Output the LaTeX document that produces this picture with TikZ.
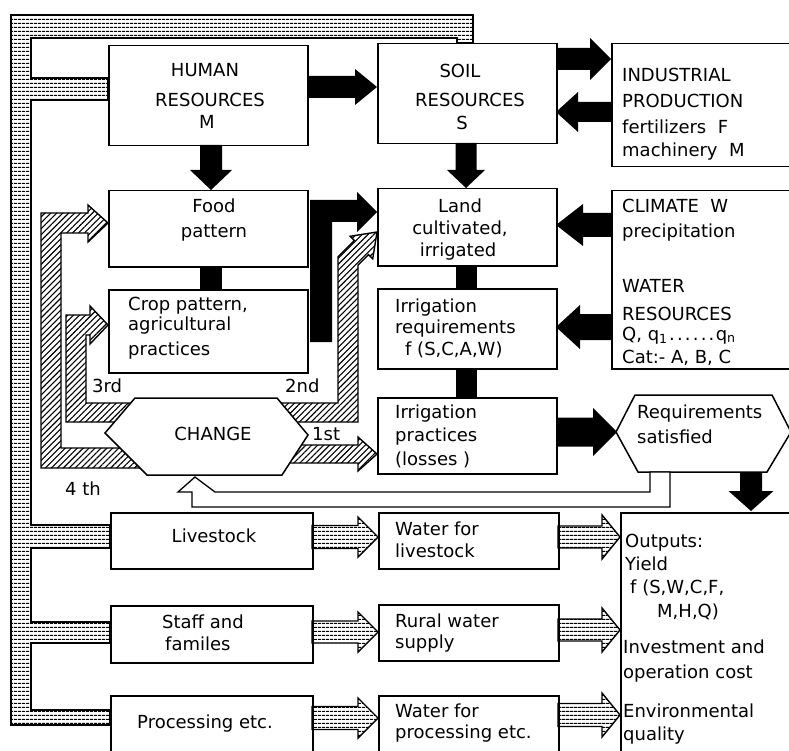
\documentclass[tikz,border=0pt]{standalone}
\usepackage{fontspec}
\setmainfont{DejaVu Sans}
\usetikzlibrary{patterns.meta}
\newcommand\hArr[7]{\path[#1] (#2,#5-#6) -- (#3,#5-#6) -- (#3,#5-#7) -- (#4,#5) -- (#3,#5+#7) -- (#3,#5+#6) -- (#2,#5+#6) -- cycle;}
\newcommand\vArr[7]{\path[#1] (#5-#6,#2) -- (#5-#6,#3) -- (#5-#7,#3) -- (#5,#4) -- (#5+#7,#3) -- (#5+#6,#3) -- (#5+#6,#2) -- cycle;}
\tikzset{
 box/.style={draw, line width=1.5pt, fill=white, inner sep=0pt, anchor=north west},
 t/.style={inner sep=0pt, font=\fontsize{18}{22}\selectfont},
 tl/.style={t, anchor=base west},
 tc/.style={t, anchor=base},
 blk/.style={fill=black},
 hatch/.style={draw, line width=1.4pt, line join=miter, pattern={Lines[angle=45,distance=4.2pt,line width=1.1pt]}},
 strp/.style={draw, line width=1.4pt, pattern={Lines[angle=0,distance=4pt,line width=1.1pt]}},
 hollow/.style={draw, line width=1.3pt, fill=white},
 hex/.style={draw, line width=1.5pt, fill=white},
}
\begin{document}
\begin{tikzpicture}[x=1pt,y=-1pt]
\clip (0,0) rectangle (789,751);
\fill[white] (0,0) rectangle (789,751);
% striped bus
\path[strp] (11,15) -- (473,15) -- (473,43) -- (457,43) -- (457,38) -- (31,38) -- (31,78) -- (108,78) -- (108,100) -- (31,100) -- (31,525) -- (110,525) -- (110,548) -- (31,548) -- (31,622) -- (110,622) -- (110,643) -- (31,643) -- (31,710) -- (110,710) -- (110,725) -- (11,725) -- cycle;
% boxes
\node[box, minimum width=199pt, minimum height=100pt] (hr) at (108,45) {};
\node[box, minimum width=179pt, minimum height=100pt] (soil) at (377,43) {};
\node[box, minimum width=200pt, minimum height=123pt] (ind) at (611,43) {};
\node[box, minimum width=199pt, minimum height=76pt] (food) at (108,190) {};
\node[box, minimum width=179pt, minimum height=77pt] (land) at (377,188) {};
\node[box, minimum width=200pt, minimum height=178pt] (clim) at (611,190) {};
\node[box, minimum width=199pt, minimum height=83pt] (crop) at (108,289) {};
\node[box, minimum width=179pt, minimum height=80pt] (ireq) at (377,288) {};
\node[box, minimum width=179pt, minimum height=76pt] (iprac) at (377,397) {};
\node[box, minimum width=202pt, minimum height=56pt] (live) at (110,512) {};
\node[box, minimum width=180pt, minimum height=56pt] (wlive) at (378,512) {};
\node[box, minimum width=202pt, minimum height=57pt] (staff) at (110,605) {};
\node[box, minimum width=180pt, minimum height=56pt] (rural) at (378,604) {};
\node[box, minimum width=202pt, minimum height=80pt] (proc) at (110,695) {};
\node[box, minimum width=180pt, minimum height=80pt] (wproc) at (378,695) {};
\node[box, minimum width=190pt, minimum height=260pt] (out) at (620,512) {};
% black arrows
\hArr{blk}{307}{355}{377}{87}{11}{18}
\vArr{blk}{145}{170}{190}{211}{11}{21}
\hArr{blk}{556}{590}{611}{59}{11}{21}
\hArr{blk}{611}{578}{556}{112}{10}{20}
\vArr{blk}{143}{170}{188}{466}{10.5}{19}
\hArr{blk}{611}{583}{556}{225}{12}{21}
\hArr{blk}{611}{580}{556}{327}{13}{22}
\hArr{blk}{556}{593}{617}{432}{14.5}{24}
\vArr{blk}{472}{491}{511}{751}{11}{22.5}
\fill (200,266) rectangle (222,289);
\fill (456,265) rectangle (477,288);
\fill (456,368) rectangle (477,397);
\fill (310,342) -- (310,200) -- (357,200) -- (357,192) -- (377,212) -- (357,232) -- (357,222) -- (332,222) -- (332,342) -- cycle;
% striped arrows
\hArr{strp}{312}{358}{378}{537}{11.5}{20}
\hArr{strp}{312}{358}{378}{632}{11}{20}
\hArr{strp}{312}{358}{378}{718}{11.5}{20}
\hArr{strp}{558}{602}{620}{537}{11}{22}
\hArr{strp}{558}{602}{620}{630}{11}{22}
\hArr{strp}{558}{602}{620}{715}{11.5}{22}
% hatched arrows
\hArr{hatch}{285}{358}{377}{454}{9}{17}
\path[hatch] (250,403) -- (338,403) -- (338,256.8) -- (354.3,240.5) -- (350.1,236.3) -- (377,232) -- (372.7,258.9) -- (368.5,254.7) -- (358,265.2) -- (358,422) -- (250,422) -- cycle;
\path[hatch] (140,403) -- (86,403) -- (86,335) -- (90,335) -- (90,344) -- (108,325) -- (90,306) -- (90,315) -- (66,315) -- (66,422) -- (140,422) -- cycle;
\path[hatch] (150,448) -- (61,448) -- (61,233) -- (88,233) -- (88,242) -- (108,223) -- (88,205) -- (88,213) -- (41,213) -- (41,468) -- (150,468) -- cycle;
% hexagons
\draw[hex] (105,433) -- (135,398) -- (277,398) -- (308,435) -- (282,475) -- (147,475) -- cycle;
\draw[hex] (616,432) -- (635,395) -- (772,395) -- (791,432) -- (767,472) -- (638,472) -- cycle;
% hollow feedback arrow
\path[hollow] (195,477) -- (215,492) -- (650,492) -- (650,472) -- (670,472) -- (670,507) -- (192,507) -- (192,492) -- (178,492) -- cycle;
% texts
\node[tc] (hr1) at (205,77) {HUMAN};
\node[tc] (hr2) at (210,107) {RESOURCES};
\node[tc] (hr3) at (207,129) {M};
\node[tc] (so1) at (460,78) {SOIL};
\node[tc] (so2) at (470,107) {RESOURCES};
\node[tc] (so3) at (462,130) {S};
\node[tl] (in1) at (622,82) {INDUSTRIAL};
\node[tl] (in2) at (622,108) {PRODUCTION};
\node[tl] (in3) at (622,134) {fertilizers\ \ F};
\node[tl] (in4) at (622,157) {machinery\ \ M};
\node[tc] (fo1) at (214,213) {Food};
\node[tc] (fo2) at (214,237) {pattern};
\node[tc] (la1) at (460,213) {Land};
\node[tc] (la2) at (460,235) {cultivated,};
\node[tc] (la3) at (458,257) {irrigated};
\node[tl] (cl1) at (622,213) {CLIMATE\ \ W};
\node[tl] (cl2) at (622,237) {precipitation};
\node[tl] (cl3) at (622,292) {WATER};
\node[tl] (cl4) at (622,320) {RESOURCES};
\node[tl] (cl5) at (622,340) {Q, q\textsubscript{1}\hbox to 48pt{\dotfill}q\textsubscript{n}};
\node[tl] (cl6) at (622,363) {Cat:- A, B, C};
\node[tl] (cr1) at (128,310) {Crop pattern,};
\node[tl] (cr2) at (128,330) {agricultural};
\node[tl] (cr3) at (128,355) {practices};
\node[tl] (ir1) at (395,312) {Irrigation};
\node[tl] (ir2) at (395,333) {requirements};
\node[tl] (ir3) at (405,355) {f (S,C,A,W)};
\node[tl] (ip1) at (395,418) {Irrigation};
\node[tl] (ip2) at (395,441) {practices};
\node[tl] (ip3) at (395,465) {(losses )};
\node[tl] (rs1) at (637,418) {Requirements};
\node[tl] (rs2) at (637,443) {satisfied};
\node[tc] (ch) at (213,440) {CHANGE};
\node[tl] (l1) at (312,440) {1st};
\node[tl] (l2) at (285,392) {2nd};
\node[tl] (l3) at (92,392) {3rd};
\node[tl] (l4) at (65,495) {4 th};
\node[tc] (li1) at (214,542) {Livestock};
\node[tl] (st1) at (162,628) {Staff and};
\node[tl] (st2) at (165,650) {familes};
\node[tc] (pr1) at (205,728) {Processing etc.};
\node[tl] (wl1) at (395,535) {Water for};
\node[tl] (wl2) at (395,557) {livestock};
\node[tl] (ru1) at (395,627) {Rural water};
\node[tl] (ru2) at (395,648) {supply};
\node[tl] (wp1) at (395,717) {Water for};
\node[tl] (wp2) at (395,738) {processing etc.};
\node[tl] (o1) at (625,547) {Outputs:};
\node[tl] (o2) at (625,570) {Yield};
\node[tl] (o3) at (630,593) {f (S,W,C,F,};
\node[tl] (o4) at (657,617) {M,H,Q)};
\node[tl] (o5) at (623,653) {Investment and};
\node[tl] (o6) at (623,678) {operation cost};
\node[tl] (o7) at (623,717) {Environmental};
\node[tl] (o8) at (623,740) {quality};
\end{tikzpicture}
\end{document}
